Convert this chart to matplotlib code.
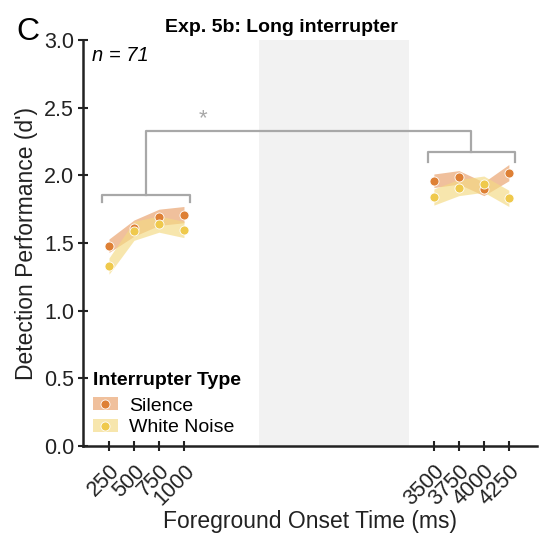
import matplotlib
matplotlib.use("Agg")
import matplotlib.pyplot as plt
from matplotlib.patches import Patch
from matplotlib.lines import Line2D
import numpy as np

plt.rcParams['font.family'] = ['Liberation Sans', 'DejaVu Sans']

onset_early = [250, 500, 750, 1000]
onset_late = [3500, 3750, 4000, 4250]
tick_labels = ['250', '500', '750', '1000', '3500', '3750', '4000', '4250']

silence_early = [1.48, 1.61, 1.69, 1.71]
silence_early_se = [0.05, 0.06, 0.06, 0.06]
silence_late = [1.96, 1.985, 1.90, 2.02]
silence_late_se = [0.05, 0.05, 0.05, 0.06]

noise_early = [1.33, 1.59, 1.64, 1.60]
noise_early_se = [0.06, 0.07, 0.06, 0.06]
noise_late = [1.84, 1.91, 1.935, 1.83]
noise_late_se = [0.06, 0.06, 0.06, 0.06]

silence_dot = '#DE8035'
silence_band = '#E9A26E'
noise_dot = '#EFC94C'
noise_band = '#F4DA82'

fig = plt.figure(figsize=(5.39, 5.33), dpi=100)
ax = fig.add_axes([0.154, 0.163, 0.842, 0.762])

ax.axvspan(1750, 3250, color='#F2F2F2', zorder=0, lw=0)

def draw(x, y, se, dot, band, alpha):
    x = np.array(x); y = np.array(y); se = np.array(se)
    ax.fill_between(x, y - se, y + se, color=band, alpha=alpha, lw=0, zorder=1)
    ax.plot(x, y, 'o', color=dot, ms=6.5, mec='white', mew=0.6, zorder=3)

draw(onset_early, silence_early, silence_early_se, silence_dot, silence_band, 0.68)
draw(onset_late, silence_late, silence_late_se, silence_dot, silence_band, 0.68)
draw(onset_early, noise_early, noise_early_se, noise_dot, noise_band, 0.65)
draw(onset_late, noise_late, noise_late_se, noise_dot, noise_band, 0.65)

# significance brackets
bc = '#A8A8A8'
lw = 1.6
lx0, lx1, ly, lyt = 180, 1060, 1.855, 1.80
rx0, rx1, ry, ryt = 3437, 4310, 2.17, 2.10
top = 2.33
ax.plot([lx0, lx0, lx1, lx1], [lyt, ly, ly, lyt], color=bc, lw=lw, zorder=2)
ax.plot([rx0, rx0, rx1, rx1], [ryt, ry, ry, ryt], color=bc, lw=lw, zorder=2)
lm = (lx0 + lx1) / 2
rm = (rx0 + rx1) / 2
ax.plot([lm, lm, rm, rm], [ly, top, top, ry], color=bc, lw=lw, zorder=2)
ax.text(1190, 2.34, '*', color=bc, fontsize=16, ha='center', va='bottom')

ax.set_xlim(-10, 4530)
ax.set_ylim(0, 3.0)
ax.set_xticks(onset_early + onset_late)
ax.set_xticklabels(tick_labels, rotation=45, ha='right', va='top',
                   rotation_mode='anchor', fontsize=15.5)
ax.set_yticks([0, 0.5, 1.0, 1.5, 2.0, 2.5, 3.0])
ax.set_yticklabels(['0.0', '0.5', '1.0', '1.5', '2.0', '2.5', '3.0'], fontsize=15.5)
ax.tick_params(direction='inout', length=7, width=1.5, color='#222222', labelcolor='#222222')
ax.tick_params(axis='x', pad=7)
ax.tick_params(axis='y', pad=3)
for s in ['top', 'right']:
    ax.spines[s].set_visible(False)
for s in ['left', 'bottom']:
    ax.spines[s].set_linewidth(1.8)
    ax.spines[s].set_color('#222222')

ax.set_xlabel('Foreground Onset Time (ms)', fontsize=16.5, color='#222222', labelpad=0.5)
ax.set_ylabel("Detection Performance (d')", fontsize=16.5, color='#222222', labelpad=4)
ax.set_title('Exp. 5b: Long interrupter', fontsize=14, fontweight='bold', pad=6, x=0.438)
ax.text(0.02, 0.985, 'n = 71', transform=ax.transAxes, fontsize=14.5, style='italic', va='top')
fig.text(0.03, 0.925, 'C', fontsize=23)

handles = [
    (Patch(facecolor=silence_band, alpha=0.68, lw=0),
     Line2D([], [], marker='o', ls='', color=silence_dot, ms=6.5, mec='white', mew=0.6)),
    (Patch(facecolor=noise_band, alpha=0.65, lw=0),
     Line2D([], [], marker='o', ls='', color=noise_dot, ms=6.5, mec='white', mew=0.6)),
]
leg = ax.legend(handles, ['Silence', 'White Noise'], title='Interrupter Type', loc='lower left',
                bbox_to_anchor=(0.0, 0.0), frameon=False, fontsize=14,
                title_fontproperties={'weight': 'bold', 'size': 14},
                handlelength=1.3, handleheight=0.6, handletextpad=0.55, labelspacing=0.25,
                borderaxespad=0.2, borderpad=0.3)
leg._legend_box.align = 'left'
leg._legend_box.sep = 6

fig.savefig('out.png', dpi=100)
